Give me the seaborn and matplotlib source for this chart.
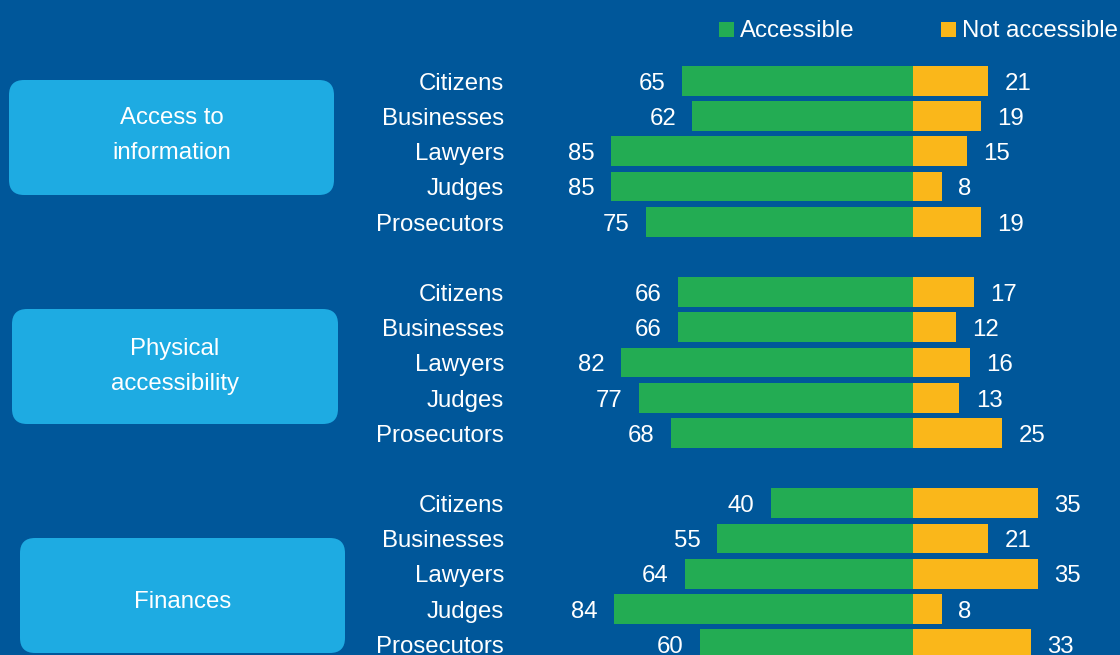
import numpy as np
import pandas as pd
import matplotlib
matplotlib.use("Agg")
import matplotlib.pyplot as plt
from matplotlib.patches import FancyBboxPatch, Rectangle
from matplotlib.transforms import IdentityTransform
import seaborn as sns

# ---- data ----
groups = ["Access to\ninformation", "Physical\naccessibility", "Finances"]
roles = ["Citizens", "Businesses", "Lawyers", "Judges", "Prosecutors"]
accessible_info = [65, 62, 85, 85, 75]
not_accessible_info = [21, 19, 15, 8, 19]
accessible_physical = [66, 66, 82, 77, 68]
not_accessible_physical = [17, 12, 16, 13, 25]
accessible_finances = [40, 55, 64, 84, 60]
not_accessible_finances = [35, 21, 35, 8, 33]
series_labels = ["Accessible", "Not accessible"]

BG = "#00579A"
GREEN = "#23AC53"
YELLOW = "#FAB71A"
BOX = "#1EABE2"
WHITE = "#FFFFFF"

sns.set_theme(style="white")
plt.rcParams["font.family"] = ["Liberation Sans", "DejaVu Sans"]

acc = [accessible_info, accessible_physical, accessible_finances]
nacc = [not_accessible_info, not_accessible_physical, not_accessible_finances]

rows = []
for g in range(len(groups)):
    for i, r in enumerate(roles):
        pos = g * 6 + i
        rows.append({"pos": pos, "role": r, "value": acc[g][i],
                     "signed": -acc[g][i], "status": series_labels[0]})
        rows.append({"pos": pos, "role": r, "value": nacc[g][i],
                     "signed": nacc[g][i], "status": series_labels[1]})
df = pd.DataFrame(rows)

W, H, DPI = 1120, 655, 100
fig = plt.figure(figsize=(W / DPI, H / DPI), dpi=DPI, facecolor=BG)
ax = fig.add_axes([0, 0, 1, 1])
ax.set_facecolor(BG)

sns.barplot(data=df, x="signed", y="pos", hue="status", orient="h",
            native_scale=True, dodge=False, width=0.85, errorbar=None,
            palette={series_labels[0]: GREEN, series_labels[1]: YELLOW},
            saturation=1, linewidth=0, legend=False, ax=ax)

ax.set_xlim(-256.5, 58.1)
ax.set_ylim(16.31, -2.30)
ax.axis("off")

FS = 17.3
off = 0.25
for _, row in df.iterrows():
    if row["status"] == series_labels[0]:
        ax.text(row["signed"] - 4.6, row["pos"] + off, f"{row['value']}",
                ha="right", va="baseline", color=WHITE, fontsize=FS)
        ax.text(-114.9, row["pos"] + off, row["role"],
                ha="right", va="baseline", color=WHITE, fontsize=FS)
    else:
        ax.text(row["signed"] + 4.6, row["pos"] + off, f"{row['value']}",
                ha="left", va="baseline", color=WHITE, fontsize=FS)

# group boxes (pixel coords, origin bottom-left)
boxes = [(9, 80, 334, 195), (12, 309, 338, 424), (20, 538, 345, 653)]
last_baselines = [159, 390, 608]
for (x0, y0, x1, y1), name, lb in zip(boxes, groups, last_baselines):
    p = FancyBboxPatch((x0 + 15, H - y1 + 15), (x1 - x0) - 30, (y1 - y0) - 30,
                       boxstyle="round,pad=15,rounding_size=15",
                       transform=IdentityTransform(), facecolor=BOX,
                       edgecolor="none", zorder=0)
    fig.patches.append(p)
    lines = name.split("\n")
    for k, line in enumerate(lines):
        yb = lb - 35 * (len(lines) - 1 - k)
        fig.text((x0 + x1) / 2 / W, 1 - yb / H, line,
                 ha="center", va="baseline", color=WHITE, fontsize=FS)

# legend
for sx, col, lab in [(719, GREEN, series_labels[0]), (941, YELLOW, series_labels[1])]:
    fig.patches.append(Rectangle((sx, H - 37), 15, 15, transform=IdentityTransform(),
                                 facecolor=col, edgecolor="none"))
    fig.text((sx + 21) / W, 1 - 37 / H, lab, ha="left", va="baseline",
             color=WHITE, fontsize=FS)

fig.savefig("out.png", dpi=DPI, facecolor=BG)
